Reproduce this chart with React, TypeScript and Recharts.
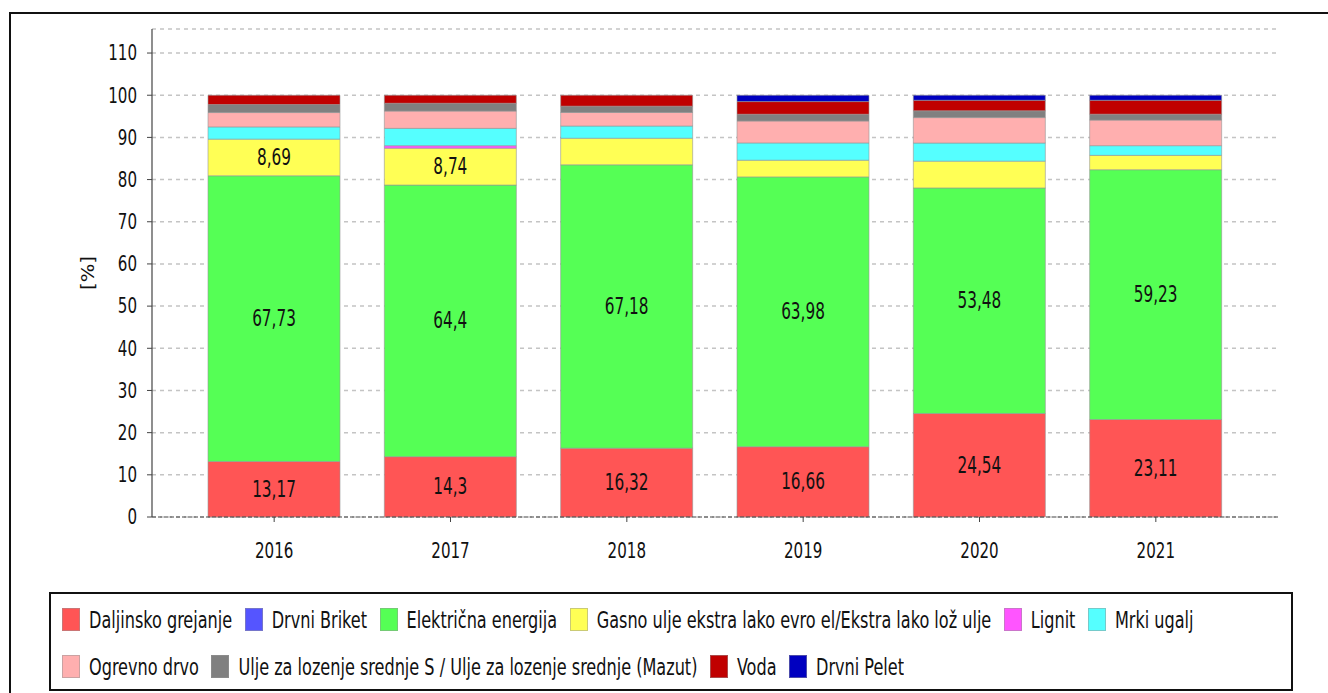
import React from 'react';
import {
  BarChart,
  Bar,
  XAxis,
  YAxis,
  CartesianGrid,
  LabelList,
} from 'recharts';

// share of heating sources per year, in %
const years = ['2016', '2017', '2018', '2019', '2020', '2021'];
const daljinsko = [13.17, 14.3, 16.32, 16.66, 24.54, 23.11];
const drvniBriket = [0, 0, 0, 0, 0, 0];
const elektricna = [67.73, 64.4, 67.18, 63.98, 53.48, 59.23];
const gasnoUlje = [8.69, 8.74, 6.3, 3.95, 6.35, 3.4];
const lignit = [0, 0.6, 0, 0, 0, 0];
const mrkiUgalj = [2.9, 4.1, 2.9, 4.1, 4.3, 2.3];
const ogrevnoDrvo = [3.4, 4.1, 3.2, 5.2, 6.03, 6.06];
const mazut = [1.9, 1.85, 1.5, 1.6, 1.6, 1.4];
const voda = [2.2, 1.9, 2.6, 3.0, 2.5, 3.3];
const drvniPelet = [0, 0, 0, 1.5, 1.2, 1.2];

const yTicks = [0, 10, 20, 30, 40, 50, 60, 70, 80, 90, 100, 110];

const SERIES = [
  { key: 'daljinsko', name: 'Daljinsko grejanje', values: daljinsko, color: '#ff5555', labels: true },
  { key: 'briket', name: 'Drvni Briket', values: drvniBriket, color: '#5555ff', labels: false },
  { key: 'elektricna', name: 'Električna energija', values: elektricna, color: '#55ff55', labels: true },
  { key: 'gasno', name: 'Gasno ulje ekstra lako evro el/Ekstra lako lož ulje', values: gasnoUlje, color: '#ffff55', labels: true },
  { key: 'lignit', name: 'Lignit', values: lignit, color: '#ff55ff', labels: false },
  { key: 'mrki', name: 'Mrki ugalj', values: mrkiUgalj, color: '#55ffff', labels: false },
  { key: 'ogrevno', name: 'Ogrevno drvo', values: ogrevnoDrvo, color: '#ffafaf', labels: false },
  { key: 'mazut', name: 'Ulje za lozenje srednje S / Ulje za lozenje srednje (Mazut)', values: mazut, color: '#808080', labels: false },
  { key: 'voda', name: 'Voda', values: voda, color: '#c00000', labels: false },
  { key: 'pelet', name: 'Drvni Pelet', values: drvniPelet, color: '#0000c0', labels: false },
];

const chartData = years.map((year, i) => {
  const row: Record<string, string | number> = { year };
  for (const s of SERIES) row[s.key] = s.values[i];
  return row;
});

const FONT = "'DejaVu Sans Condensed', 'DejaVu Sans', sans-serif";
const SY = 1.3; // text in the source is stretched vertically

const fmt = (v: number) => String(v).replace('.', ',');

const YTick = (props: any) => {
  const { x, y, payload } = props;
  return (
    <text
      transform={`translate(${x},${y}) scale(1,${SY})`}
      textAnchor="end"
      dominantBaseline="central"
      fontFamily={FONT}
      fontSize={16.8}
      fill="#111"
    >
      {payload.value}
    </text>
  );
};

const XTick = (props: any) => {
  const { x, y, payload } = props;
  return (
    <text
      transform={`translate(${x},${y + 29}) scale(1,${SY})`}
      textAnchor="middle"
      dominantBaseline="central"
      fontFamily={FONT}
      fontSize={16.8}
      fill="#111"
    >
      {payload.value}
    </text>
  );
};

const AxisTitle = (props: any) => {
  const vb = props.viewBox || { x: 0, y: 0, height: 0 };
  const cx = vb.x + 88;
  const cy = vb.y + vb.height / 2;
  return (
    <text
      transform={`translate(${cx},${cy}) rotate(-90) scale(${SY},1)`}
      textAnchor="middle"
      dominantBaseline="central"
      fontFamily={FONT}
      fontSize={16.8}
      fill="#111"
    >
      [%]
    </text>
  );
};

const SegmentLabel = (props: any) => {
  const { x, y, width, height, value } = props;
  if (value == null || value < 8) return null;
  return (
    <text
      transform={`translate(${x + width / 2},${y + height / 2}) scale(1,${SY})`}
      textAnchor="middle"
      dominantBaseline="central"
      fontFamily={FONT}
      fontSize={17}
      fill="#111"
    >
      {fmt(value)}
    </text>
  );
};

export default function App() {
  return (
    <div style={{ position: 'absolute', left: 0, top: 0, width: 1328, height: 693, background: '#fff', overflow: 'hidden' }}>
      <div
        style={{
          position: 'absolute',
          left: 9,
          top: 12,
          width: 1330,
          height: 700,
          borderTop: '2px solid #111',
          borderLeft: '2px solid #111',
        }}
      />
      <div style={{ position: 'absolute', left: 0, top: 0 }}>
        <BarChart
          width={1328}
          height={580}
          data={chartData}
          margin={{ top: 29, right: 50, left: 0, bottom: 0 }}
          barSize={132}
        >
          <CartesianGrid vertical={false} stroke="#c4c4c4" strokeDasharray="4 4" strokeWidth={1.5} />
          <XAxis
            dataKey="year"
            height={63}
            padding={{ left: 34, right: 34 }}
            tick={<XTick />}
            tickSize={5}
            tickMargin={0}
            tickLine={{ stroke: '#444' }}
            axisLine={{ stroke: '#444', strokeDasharray: '4 2', strokeWidth: 1.2 }}
          />
          <YAxis
            width={152}
            domain={[0, 115.7]}
            ticks={yTicks}
            interval={0}
            tick={<YTick />}
            tickSize={5}
            tickMargin={10}
            tickLine={{ stroke: '#444' }}
            axisLine={{ stroke: '#444', strokeWidth: 1.2 }}
            label={<AxisTitle />}
          />
          {SERIES.map((s) => (
            <Bar
              key={s.key}
              dataKey={s.key}
              name={s.name}
              stackId="a"
              fill={s.color}
              stroke="rgba(150,150,150,0.6)"
              strokeWidth={1}
              isAnimationActive={false}
            >
              {s.labels && <LabelList dataKey={s.key} content={<SegmentLabel />} />}
            </Bar>
          ))}
        </BarChart>
      </div>
      <div
        style={{
          position: 'absolute',
          left: 49,
          top: 592,
          width: 1244,
          height: 99,
          border: '2px solid #111',
          boxSizing: 'border-box',
          padding: '14px 0 0 11px',
          display: 'flex',
          flexWrap: 'wrap',
          alignContent: 'flex-start',
          rowGap: 25,
          fontFamily: FONT,
          fontSize: 17.9,
          color: '#111',
        }}
      >
        {SERIES.map((s) => (
          <div key={s.key} style={{ display: 'flex', alignItems: 'center', marginRight: 12.5, height: 22 }}>
            <span
              style={{
                display: 'inline-block',
                width: 18,
                height: 23,
                background: s.color,
                border: '1px solid rgba(150,150,150,0.5)',
                boxSizing: 'border-box',
                marginRight: 9,
              }}
            />
            <span style={{ display: 'inline-block', transform: `scaleY(${SY})`, whiteSpace: 'nowrap' }}>{s.name}</span>
          </div>
        ))}
      </div>
    </div>
  );
}
